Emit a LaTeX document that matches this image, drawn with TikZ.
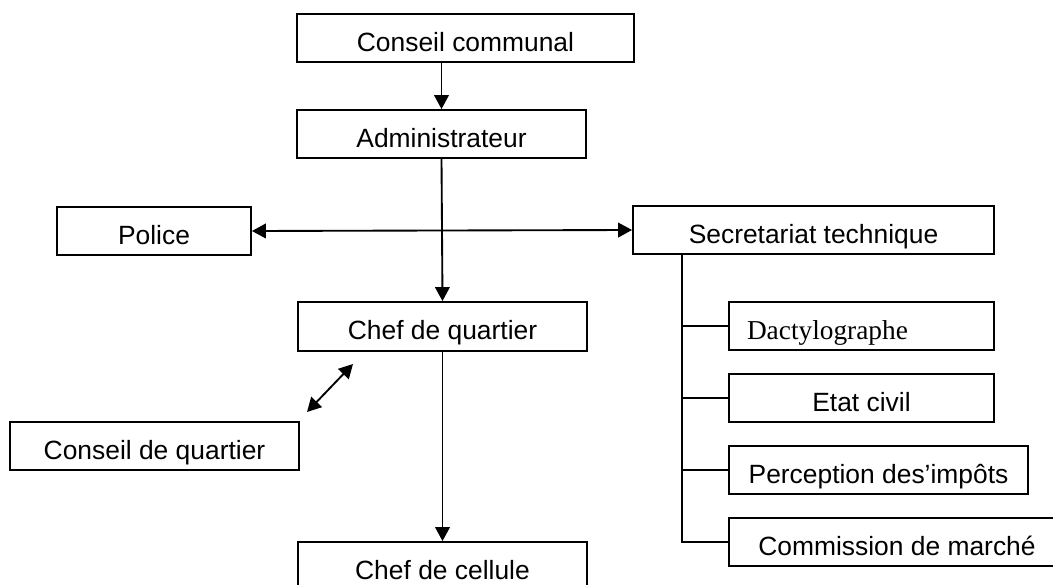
\documentclass[tikz,border=0pt]{standalone}
\usepackage{fontspec}
\setmainfont{Liberation Sans}
\newfontfamily\timesf{Liberation Serif}
\usetikzlibrary{arrows.meta}
\begin{document}
\begin{tikzpicture}[x=0.75pt,y=-0.75pt,line width=1.4pt,
  box/.style={draw,line width=1.4pt,rectangle,inner sep=0pt,text height=20pt,text depth=0pt,font=\fontsize{19.8}{23}\selectfont},
  arr/.style={-{Triangle[length=10.5pt,width=11pt]}},
  darr/.style={{Triangle[length=10.5pt,width=11pt]}-{Triangle[length=10.5pt,width=11pt]}}]
\clip (0,0) rectangle (1053,585);
\node[box,minimum width={337*0.75pt},minimum height={48*0.75pt}] (cc) at (465.5,38) {Conseil communal};
\node[box,minimum width={289*0.75pt},minimum height={48*0.75pt}] (adm) at (441.5,134) {Administrateur};
\node[box,minimum width={194*0.75pt},minimum height={48*0.75pt}] (pol) at (154,231) {Police};
\node[box,minimum width={361*0.75pt},minimum height={48*0.75pt}] (sec) at (813.5,230) {Secretariat technique};
\node[box,minimum width={289*0.75pt},minimum height={49*0.75pt}] (cq) at (442.5,326.5) {Chef de quartier};
\node[box,minimum width={265*0.75pt},minimum height={48*0.75pt},text width={229*0.75pt},inner xsep={18*0.75pt},align=left,font=\timesf\fontsize{20.5}{23}\selectfont] (dac) at (861.5,326) {Dactylographe};
\node[box,minimum width={265*0.75pt},minimum height={48*0.75pt}] (ec) at (861.5,398) {Etat civil};
\node[box,minimum width={299*0.75pt},minimum height={48*0.75pt}] (per) at (878.5,470) {Perception des’impôts};
\node[box,minimum width={336*0.75pt},minimum height={48*0.75pt}] (com) at (897,542) {Commission de marché};
\node[box,minimum width={289*0.75pt},minimum height={48*0.75pt}] (cdq) at (154.5,446) {Conseil de quartier};
\node[box,minimum width={289*0.75pt},minimum height={48*0.75pt}] (cel) at (442.5,566) {Chef de cellule};
\coordinate (sp) at (682,0);
\coordinate (d1) at (307,412);
\coordinate (d2) at (353,364);
\draw[arr] (adm.north |- cc.south) -- (adm.north);
\draw[arr] (adm.south) -- (cq.north);
\draw[darr] (pol.east) -- (sec.west);
\draw[arr] (cq.south) -- (cel.north);
\draw[darr] (d1) -- (d2);
\draw (sec.south -| sp) -- (com.west -| sp) -- (com.west);
\draw (dac.west -| sp) -- (dac.west);
\draw (ec.west -| sp) -- (ec.west);
\draw (per.west -| sp) -- (per.west);
\end{tikzpicture}
\end{document}
